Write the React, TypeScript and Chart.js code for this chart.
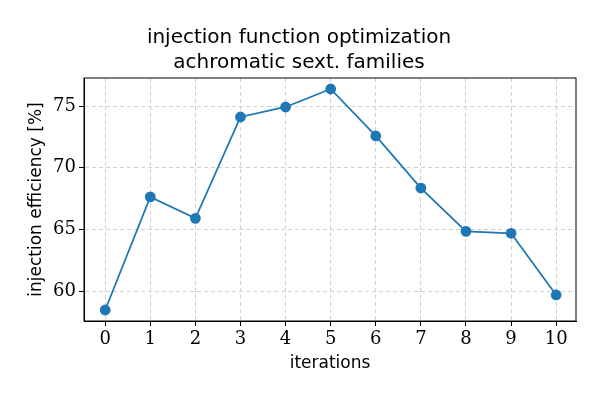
import { useEffect, useRef } from 'react';
import Chart from 'chart.js/auto';

const iterations = [0, 1, 2, 3, 4, 5, 6, 7, 8, 9, 10];
const efficiency = [58.46, 67.63, 65.89, 74.11, 74.92, 76.38, 72.57, 68.35, 64.84, 64.68, 59.68];
const titleLines = ['injection function optimization', 'achromatic sext. families'];

export default function App() {
  const canvasRef = useRef<HTMLCanvasElement>(null);

  useEffect(() => {
    document.body.style.margin = '0';
    if (!canvasRef.current) return;
    const chart = new Chart(canvasRef.current, {
      type: 'line',
      data: {
        datasets: [{
          data: iterations.map((x, i) => ({ x, y: efficiency[i] })),
          borderColor: '#1f77b4',
          backgroundColor: '#1f77b4',
          borderWidth: 1.8,
          pointRadius: 4.5,
          pointHoverRadius: 4.5,
          tension: 0,
        }],
      },
      options: {
        responsive: false,
        animation: false,
        layout: { padding: { top: 0, right: 24, bottom: 22, left: 22 } },
        plugins: {
          legend: { display: false },
          tooltip: { enabled: false },
          title: {
            display: true,
            text: titleLines,
            color: '#000',
            font: { family: 'DejaVu Sans', size: 20, weight: 'normal', lineHeight: 1.25 },
            padding: { top: 25, bottom: 3 },
          },
        },
        scales: {
          x: {
            type: 'linear',
            min: -0.47,
            max: 10.44,
            afterFit: (s: any) => { s.height = 57; },
            afterBuildTicks: (s: any) => { s.ticks = iterations.map(v => ({ value: v })); },
            ticks: { color: '#000', font: { family: 'DejaVu Serif', size: 18 }, padding: 3 },
            grid: { color: '#d0d0d0', tickColor: '#000', tickLength: 5 },
            border: { color: '#000', dash: [4, 3] },
            title: { display: true, text: 'iterations', color: '#000', font: { family: 'DejaVu Sans', size: 17 }, padding: { top: 2 } },
          },
          y: {
            min: 57.57,
            max: 77.27,
            afterFit: (s: any) => { s.width = 62; },
            afterBuildTicks: (s: any) => { s.ticks = [60, 65, 70, 75].map(v => ({ value: v })); },
            ticks: { color: '#000', font: { family: 'DejaVu Serif', size: 18 }, padding: 3 },
            grid: { color: '#d0d0d0', tickColor: '#000', tickLength: 5 },
            border: { color: '#000', dash: [4, 3] },
            title: { display: true, text: 'injection efficiency [%]', color: '#000', font: { family: 'DejaVu Sans', size: 17 }, padding: { bottom: 2 } },
          },
        },
      },
      plugins: [{
        id: 'frame',
        afterDraw: (c: any) => {
          const { left, right, top, bottom } = c.chartArea;
          const ctx = c.ctx;
          ctx.save();
          ctx.strokeStyle = '#000';
          ctx.lineWidth = 1;
          ctx.setLineDash([]);
          ctx.strokeRect(left, top, right - left, bottom - top);
          ctx.restore();
        },
      }],
    });
    return () => chart.destroy();
  }, []);

  return <canvas ref={canvasRef} width={600} height={400} style={{ display: 'block', background: '#fff' }} />;
}
